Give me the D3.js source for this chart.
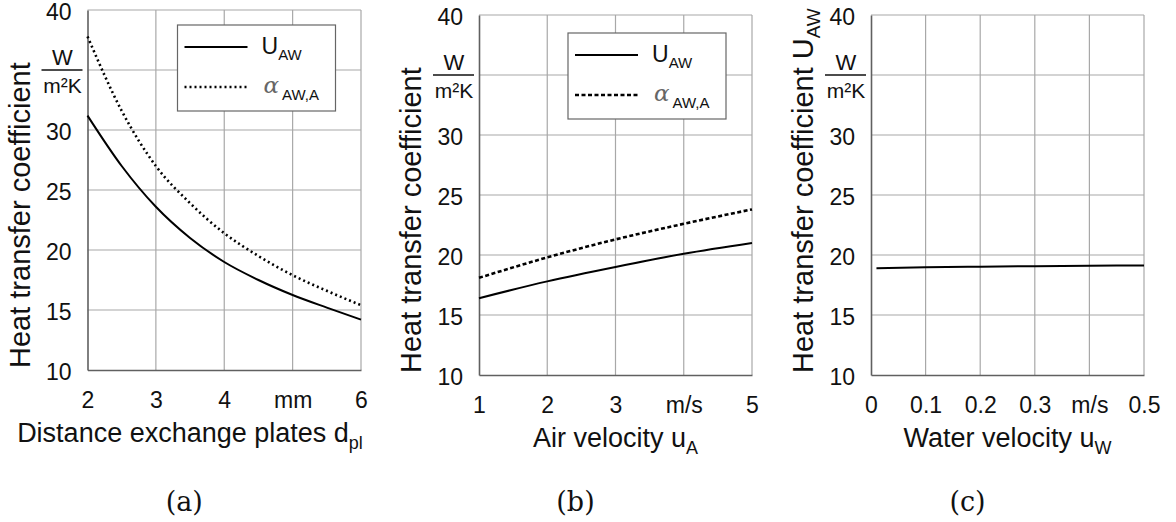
<!DOCTYPE html>
<html><head><meta charset="utf-8">
<script src="https://cdn.jsdelivr.net/npm/d3@7"></script>
<style>body{margin:0;background:#fff}svg{display:block}</style>
</head><body>
<svg id="chart" width="1176" height="522"></svg>
<script>
// ---- data ----
const distPlates = [2, 2.5, 3, 3.5, 4, 4.5, 5, 5.5, 6];
const uAW_dist = [31.2, 27.0, 23.6, 21.0, 19.0, 17.5, 16.25, 15.2, 14.2];
const alpha_dist = [37.8, 31.6, 27.0, 23.9, 21.4, 19.5, 17.9, 16.6, 15.4];

const airVel = [1, 2, 3, 4, 5];
const uAW_air = [16.4, 17.8, 19.0, 20.1, 21.0];
const alpha_air = [18.1, 19.8, 21.3, 22.6, 23.8];

const waterVel = [0.01, 0.1, 0.2, 0.3, 0.4, 0.5];
const uAW_water = [18.90, 18.98, 19.03, 19.07, 19.10, 19.13];

const yTicks = [10, 15, 20, 25, 30, 40];
const xTicksA = [2, 3, 4, 5, 6];
const xLabelsA = ["2", "3", "4", "mm", "6"];
const xTicksB = [1, 2, 3, 4, 5];
const xLabelsB = ["1", "2", "3", "m/s", "5"];
const xTicksC = [0, 0.1, 0.2, 0.3, 0.4, 0.5];
const xLabelsC = ["0", "0.1", "0.2", "0.3", "m/s", "0.5"];

const svg = d3.select("#chart");
const SANS = "'Liberation Sans', Arial, sans-serif";
const SERIF = "'DejaVu Serif', 'Liberation Serif', serif";

const panels = [
  {left: 87.5, right: 361, top: 10, bottom: 370, xd: [2, 6], xt: xTicksA, xl: xLabelsA,
   xs: distPlates, series: [uAW_dist, alpha_dist], dash: "2,3", xtitleX: 190,
   xtitle: ["Distance exchange plates d", "pl"], ytitleSub: null, caption: "(a)", legend: [90, 15]},
  {left: 479, right: 752, top: 15, bottom: 375, xd: [1, 5], xt: xTicksB, xl: xLabelsB,
   xs: airVel, series: [uAW_air, alpha_air], dash: "4,2.5", xtitleX: null,
   xtitle: ["Air velocity u", "A"], ytitleSub: null, caption: "(b)", legend: [89, 18]},
  {left: 871, right: 1144, top: 15, bottom: 375, xd: [0, 0.5], xt: xTicksC, xl: xLabelsC,
   xs: waterVel, series: [uAW_water], dash: null, xtitleX: null,
   xtitle: ["Water velocity u", "W"], ytitleSub: "AW", caption: "(c)", legend: null}
];

panels.forEach(p => {
  const x = d3.scaleLinear().domain(p.xd).range([p.left, p.right]);
  const y = d3.scaleLinear().domain([10, 40]).range([p.bottom, p.top]);
  const g = svg.append("g");

  // gridlines
  const gridY = [15, 20, 25, 30, 35, 40];
  g.selectAll(".gy").data(gridY).join("line")
    .attr("x1", p.left).attr("x2", p.right)
    .attr("y1", d => y(d)).attr("y2", d => y(d))
    .attr("stroke", "#a8a8a8").attr("stroke-width", 1.2);
  g.selectAll(".gx").data(p.xt.slice(1)).join("line")
    .attr("x1", d => x(d)).attr("x2", d => x(d))
    .attr("y1", p.top).attr("y2", p.bottom)
    .attr("stroke", "#a8a8a8").attr("stroke-width", 1.2);

  // axes (left & bottom)
  const ax = g.append("g").attr("transform", `translate(0,${p.bottom})`)
    .call(d3.axisBottom(x).tickValues(p.xt).tickSize(0).tickFormat((d, i) => p.xl[i]));
  ax.select(".domain").attr("stroke", "#606060").attr("stroke-width", 1.6);
  ax.selectAll("text").attr("font-family", SANS).attr("font-size", 23)
    .attr("fill", "#111").attr("dy", 0).attr("y", 38);

  const ay = g.append("g").attr("transform", `translate(${p.left},0)`)
    .call(d3.axisLeft(y).tickValues(yTicks).tickSize(0).tickFormat(d3.format("d")));
  ay.select(".domain").attr("stroke", "#606060").attr("stroke-width", 1.6);
  ay.selectAll("text").attr("font-family", SANS).attr("font-size", 23)
    .attr("fill", "#111").attr("x", -16).attr("dy", "0.4em");

  // unit W / m²K at y=35
  const ux = p.left - 25;
  g.append("text").attr("x", ux).attr("y", y(35) - 5).attr("text-anchor", "middle")
    .attr("font-family", SANS).attr("font-size", 22).attr("fill", "#111").text("W");
  g.append("line").attr("x1", p.left - 46).attr("x2", p.left - 5)
    .attr("y1", y(35)).attr("y2", y(35)).attr("stroke", "#111").attr("stroke-width", 1.5);
  g.append("text").attr("x", ux).attr("y", y(35) + 23).attr("text-anchor", "middle")
    .attr("font-family", SANS).attr("font-size", 21).attr("fill", "#111").text("m²K");

  // y title
  const yt = g.append("text")
    .attr("transform", `translate(${p.left - 58},${p.bottom - 2}) rotate(-90)`)
    .attr("text-anchor", "start").attr("font-family", SANS).attr("font-size", 29)
    .attr("fill", "#111").text("Heat transfer coefficient");
  if (p.ytitleSub) {
    yt.append("tspan").text(" U");
    yt.append("tspan").attr("font-size", 19).attr("dy", 7).text(p.ytitleSub);
  }

  // x title
  const xt = g.append("text").attr("x", p.xtitleX != null ? p.xtitleX : (p.left + p.right) / 2)
    .attr("y", p.bottom + 72)
    .attr("text-anchor", "middle").attr("font-family", SANS).attr("font-size", 27).attr("fill", "#111");
  xt.append("tspan").text(p.xtitle[0]);
  xt.append("tspan").attr("font-size", 18).attr("dy", 7).text(p.xtitle[1]);

  // caption
  svg.append("text").attr("x", (p.left + p.right) / 2 - 40).attr("y", 511)
    .attr("text-anchor", "middle").attr("font-family", SERIF).attr("font-size", 27)
    .attr("font-weight", 300).attr("fill", "#111").text(p.caption);

  // lines
  const line = d3.line().curve(d3.curveMonotoneX);
  p.series.forEach((vals, si) => {
    const pts = p.xs.map((xv, i) => [x(xv), y(vals[i])]);
    g.append("path").attr("d", line(pts)).attr("fill", "none")
      .attr("stroke", "#000").attr("stroke-width", si === 0 ? 2 : 2.6)
      .attr("stroke-dasharray", si === 0 ? null : p.dash);
  });

  // legend
  if (p.legend) {
    const lx = p.left + p.legend[0], ly = p.top + p.legend[1];
    const lg = g.append("g").attr("transform", `translate(${lx},${ly})`);
    lg.append("rect").attr("width", 158).attr("height", 86)
      .attr("fill", "#fff").attr("stroke", "#666").attr("stroke-width", 1.2);
    lg.append("line").attr("x1", 7).attr("x2", 70).attr("y1", 22).attr("y2", 22)
      .attr("stroke", "#000").attr("stroke-width", 2);
    lg.append("line").attr("x1", 7).attr("x2", 71).attr("y1", 62).attr("y2", 62)
      .attr("stroke", "#000").attr("stroke-width", 2.6).attr("stroke-dasharray", p.dash);
    const t1 = lg.append("text").attr("x", 84).attr("y", 29)
      .attr("font-family", SANS).attr("font-size", 23).attr("fill", "#111");
    t1.append("tspan").text("U");
    t1.append("tspan").attr("font-size", 15).attr("dy", 6).text("AW");
    const t2 = lg.append("text").attr("x", 86).attr("y", 68)
      .attr("font-family", SANS).attr("font-size", 23).attr("fill", "#111");
    t2.append("tspan").attr("font-family", SERIF).attr("font-style", "italic")
      .attr("fill", "#666").text("α");
    t2.append("tspan").attr("font-size", 15).attr("dx", 3).attr("dy", 7).text("AW,A");
  }
});
</script>
</body></html>
